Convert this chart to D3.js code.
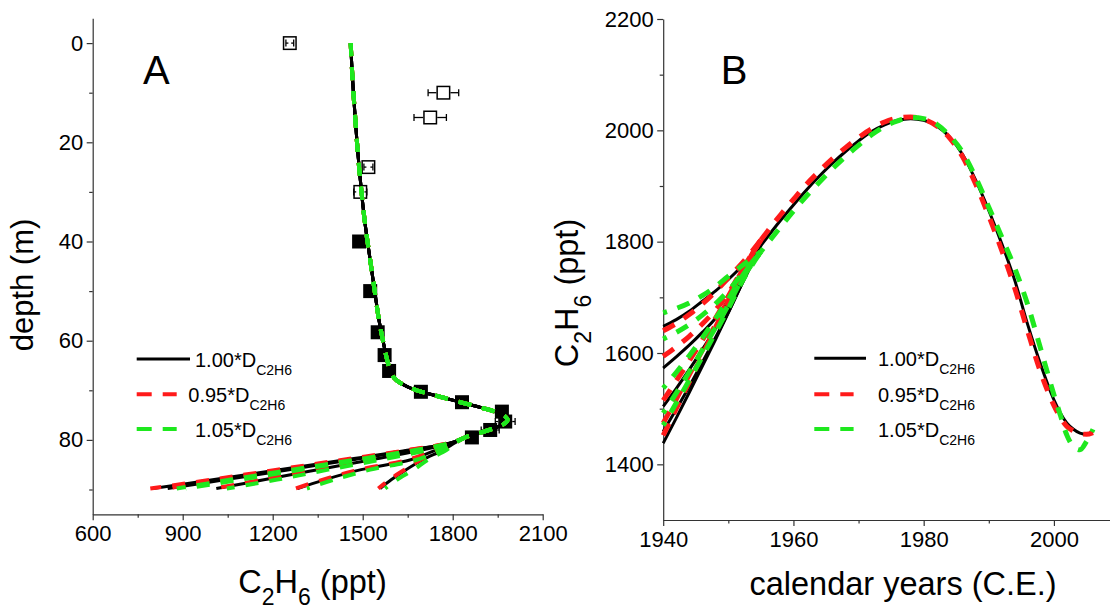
<!DOCTYPE html>
<html>
<head>
<meta charset="utf-8">
<script src="https://cdn.jsdelivr.net/npm/d3@7"></script>
<style>
  body { margin: 0; background: #fff; }
  svg text { font-family: "Liberation Sans", Arial, Helvetica, sans-serif; fill: #000; }
</style>
</head>
<body>
<svg id="chart" width="1110" height="610"></svg>
<script>
// ---------------- Panel A: firn depth profile ----------------
// shared model profile down to the firn/ice transition (depth m, C2H6 ppt)
const depthTop = [0, 5, 10, 15, 20, 25, 30, 35, 40, 45, 50, 55, 58, 61, 64, 66, 67.5, 68.5, 69.3, 70, 70.7, 71.5, 72.5, 73.5, 74.5, 75.3, 76, 76.8, 77.6, 78.5, 79.3];
const ppbTop   = [1460, 1464, 1469, 1475, 1481, 1488, 1496, 1505, 1516, 1528, 1540, 1552, 1561, 1571, 1582, 1592, 1605, 1625, 1650, 1680, 1720, 1770, 1832, 1895, 1950, 1975, 1983, 1970, 1940, 1895, 1850];

// deep tails, one row per pre-1950 history scenario
const tailDepth = [80.5, 82, 84, 86, 88, 89.8];
const tailBlack = [
  [1798, 1660, 1442, 1222, 1005, 800],
  [1798, 1668, 1465, 1255, 1045, 850],
  [1800, 1700, 1530, 1350, 1175, 1012],
  [1805, 1745, 1660, 1495, 1375, 1283],
  [1810, 1770, 1700, 1645, 1596, 1558]
];
const tailRed = [
  [1798, 1655, 1435, 1215, 998, 792],
  [1798, 1662, 1458, 1248, 1038, 842],
  [1800, 1695, 1524, 1343, 1168, 1005],
  [1805, 1740, 1652, 1488, 1368, 1276],
  [1810, 1765, 1694, 1640, 1590, 1552]
];
const tailGreen = [
  [1800, 1680, 1475, 1265, 1060, 880],
  [1800, 1690, 1495, 1295, 1095, 910],
  [1803, 1720, 1560, 1385, 1215, 1047],
  [1808, 1760, 1680, 1525, 1405, 1314],
  [1812, 1780, 1718, 1670, 1615, 1575]
];

// firn air measurements
const firnObsDepth = [0, 10, 15, 25, 30];
const firnObsValue = [1257, 1769, 1725, 1519, 1492];
const firnObsErr   = [13, 51, 54, 15, 22];
const iceObsDepth  = [40, 50, 58.3, 62.9, 66.1, 70.3, 72.4, 74.3, 76.3, 78, 79.5];
const iceObsValue  = [1488, 1525, 1550, 1573, 1588, 1694, 1831, 1964, 1975, 1925, 1864];
const iceObsErr    = [5, 5, 5, 5, 5, 5, 5, 5, 33, 30, 12];

// ---------------- Panel B: reconstructed atmospheric history ----------------
const earlyYears = [1940, 1942, 1944, 1946, 1948, 1950, 1952, 1955];
const earlyBlack = [
  [1438, 1483, 1529, 1576, 1623, 1672, 1722, 1793],
  [1459, 1499, 1540, 1583, 1627, 1673, 1722, 1793],
  [1504, 1536, 1570, 1606, 1644, 1685, 1730, 1793],
  [1573, 1593, 1614, 1637, 1662, 1695, 1735, 1793],
  [1648, 1660, 1675, 1693, 1711, 1732, 1755, 1793]
];
const earlyRed = [
  [1452, 1500, 1548, 1596, 1645, 1694, 1742, 1803],
  [1474, 1517, 1561, 1605, 1650, 1696, 1744, 1803],
  [1515, 1550, 1586, 1623, 1662, 1702, 1745, 1803],
  [1594, 1611, 1630, 1652, 1677, 1707, 1747, 1803],
  [1640, 1653, 1669, 1688, 1710, 1735, 1760, 1803]
];
const earlyGreen = [
  [1470, 1510, 1551, 1593, 1636, 1680, 1726, 1782],
  [1492, 1528, 1566, 1605, 1645, 1686, 1730, 1782],
  [1537, 1565, 1595, 1627, 1661, 1697, 1736, 1782],
  [1625, 1637, 1651, 1668, 1688, 1712, 1740, 1782],
  [1672, 1680, 1690, 1703, 1719, 1738, 1756, 1782]
];
// common path after the scenarios converge
const mainYears = [1955, 1958, 1960, 1962, 1964, 1966, 1968, 1970, 1972, 1974, 1976, 1978, 1980, 1982, 1984, 1986, 1988, 1990, 1992, 1994, 1996, 1998, 2000, 2001, 2002, 2003, 2004, 2005, 2006];
const mainBlack = [1793, 1838, 1866, 1893, 1918, 1941, 1962, 1981, 1998, 2010, 2018, 2021, 2018, 2008, 1988, 1956, 1910, 1856, 1796, 1730, 1650, 1578, 1516, 1492, 1474, 1463, 1456, 1454, 1460];
const mainRed   = [1803, 1848, 1876, 1903, 1927, 1949, 1969, 1987, 2003, 2015, 2022, 2024, 2020, 2008, 1986, 1952, 1903, 1846, 1784, 1716, 1638, 1564, 1506, 1484, 1468, 1460, 1455, 1454, 1457];
const mainGreen = [1782, 1826, 1855, 1882, 1907, 1931, 1953, 1973, 1992, 2007, 2017, 2023, 2021, 2011, 1990, 1960, 1915, 1862, 1808, 1752, 1686, 1606, 1525, 1488, 1452, 1432, 1426, 1441, 1463];

// axis ticks and legend labels
const depthTicks = [0, 20, 40, 60, 80];
const depthMinor = [10, 30, 50, 70, 90];
const ppbTicksA  = [600, 900, 1200, 1500, 1800, 2100];
const ppbMinorA  = [750, 1050, 1350, 1650, 1950];
const yearTicks  = [1940, 1960, 1980, 2000];
const yearMinor  = [1950, 1970, 1990];
const ppbTicksB  = [1400, 1600, 1800, 2000, 2200];
const ppbMinorB  = [1500, 1700, 1900, 2100];
const legendFactors = ["1.00", "0.95", "1.05"];

// ---------------- drawing ----------------
const svg = d3.select("#chart");
svg.append("rect").attr("width", 1110).attr("height", 610).attr("fill", "#fff");

const styles = [
  { color: "#000000", width: 3, dash: null, offset: 0 },
  { color: "#ff1a1a", width: 4, dash: "13,11", offset: 0 },
  { color: "#1ee81e", width: 4, dash: "13,11", offset: 0 }
];

const xA = d3.scaleLinear([600, 2100], [92.7, 542.7]);
const yA = d3.scaleLinear([-5, 95], [18.3, 514.3]);
const xB = d3.scaleLinear([1940, 2010], [663.2, 663.2 + 70 * 6.512]);
const yB = d3.scaleLinear([1300, 2200], [520, 19]);

const TICK_FONT = 22;

function styleAxis(g) {
  g.selectAll(".domain").attr("stroke", "#333").attr("stroke-width", 1.2);
  g.selectAll(".tick line").attr("stroke", "#333").attr("stroke-width", 1.2);
  g.selectAll(".tick text").attr("font-size", TICK_FONT)
    .attr("font-family", "Liberation Sans, Arial, sans-serif").attr("fill", "#000");
}

function drawAxes(x, y, xMajor, xMinor, yMajor, yMinor, xAxisY, yAxisX) {
  const gx = svg.append("g").attr("transform", `translate(0,${xAxisY})`)
    .call(d3.axisBottom(x).tickValues(xMajor).tickSize(6).tickSizeOuter(0).tickPadding(5.5).tickFormat(d3.format("d")));
  styleAxis(gx);
  const gxm = svg.append("g").attr("transform", `translate(0,${xAxisY})`)
    .call(d3.axisBottom(x).tickValues(xMinor).tickSize(3.5).tickFormat(""));
  gxm.select(".domain").remove();
  styleAxis(gxm);
  const gy = svg.append("g").attr("transform", `translate(${yAxisX},0)`)
    .call(d3.axisLeft(y).tickValues(yMajor).tickSize(6).tickSizeOuter(0).tickPadding(3.5).tickFormat(d3.format("d")));
  styleAxis(gy);
  const gym = svg.append("g").attr("transform", `translate(${yAxisX},0)`)
    .call(d3.axisLeft(y).tickValues(yMinor).tickSize(3.5).tickFormat(""));
  gym.select(".domain").remove();
  styleAxis(gym);
}

// text with subscripted pieces: parts = [[text, isSub], ...]
function richText(g, parts, size, subSize, subShift) {
  let shifted = false;
  parts.forEach(([t, sub]) => {
    const ts = g.append("tspan").text(t).attr("font-size", sub ? subSize : size);
    if (sub && !shifted) { ts.attr("dy", subShift); shifted = true; }
    else if (!sub && shifted) { ts.attr("dy", -subShift); shifted = false; }
  });
  return g;
}

function strokePath(g, line, pts, st) {
  const p = g.append("path").attr("d", line(pts)).attr("fill", "none")
    .attr("stroke", st.color).attr("stroke-width", st.width)
    .attr("stroke-linejoin", "round");
  if (st.dash) p.attr("stroke-dasharray", st.dash).attr("stroke-dashoffset", st.offset || 0);
  return p;
}

function legend(x0, lineEnds, textXs, rowY) {
  legendFactors.forEach((f, i) => {
    const st = styles[i];
    const l = svg.append("line").attr("x1", x0).attr("x2", lineEnds[i])
      .attr("y1", rowY[i]).attr("y2", rowY[i])
      .attr("stroke", st.color).attr("stroke-width", i === 0 ? 3 : 4);
    if (st.dash) l.attr("stroke-dasharray", "15,11");
    const t = svg.append("text").attr("x", textXs[i]).attr("y", rowY[i] + 8);
    richText(t, [[f + "*D", false], ["C2H6", true]], 20, 14, 8);
  });
}

const subTitle = [["C", false], ["2", true], ["H", false], ["6", true], [" (ppt)", false]];

// ----- Panel A -----
drawAxes(xA, yA, ppbTicksA, ppbMinorA, depthTicks, depthMinor, 514.3, 92.7);

const gA = svg.append("g");
const half = 7;

// filled squares (ice) and open squares (firn air)
iceObsDepth.forEach((d, i) => {
  gA.append("rect").attr("x", xA(iceObsValue[i]) - half).attr("y", yA(d) - half)
    .attr("width", 2 * half).attr("height", 2 * half).attr("fill", "#000");
});
firnObsDepth.forEach((d, i) => {
  gA.append("rect").attr("x", xA(firnObsValue[i]) - half + 0.75).attr("y", yA(d) - half + 0.75)
    .attr("width", 2 * half - 1.5).attr("height", 2 * half - 1.5)
    .attr("fill", "#fff").attr("stroke", "#000").attr("stroke-width", 1.5);
});

// horizontal error bars drawn outside the symbol
function errBars(depths, values, errs) {
  depths.forEach((d, i) => {
    const cx = xA(values[i]), cy = yA(d);
    const lo = xA(values[i] - errs[i]), hi = xA(values[i] + errs[i]);
    const seg = (a, b) => gA.append("line").attr("x1", a).attr("x2", b).attr("y1", cy).attr("y2", cy)
      .attr("stroke", "#000").attr("stroke-width", 1.3);
    if (hi - cx > half) { seg(lo, cx - half); seg(cx + half, hi); }
    else { seg(lo, lo + 2.5); seg(hi - 2.5, hi); }
    [lo, hi].forEach(xx => gA.append("line").attr("x1", xx).attr("x2", xx)
      .attr("y1", cy - 3.5).attr("y2", cy + 3.5).attr("stroke", "#000").attr("stroke-width", 1.3));
  });
}
errBars(firnObsDepth, firnObsValue, firnObsErr);
errBars(iceObsDepth, iceObsValue, iceObsErr);

const lineA = d3.line().x(p => xA(p[1])).y(p => yA(p[0])).curve(d3.curveCatmullRom.alpha(0.5));
const topPts = depthTop.map((d, i) => [d, ppbTop[i]]);
[tailBlack, tailRed, tailGreen].forEach((tails, k) => {
  tails.forEach(row => {
    const pts = topPts.concat(tailDepth.map((d, j) => [d, row[j]]));
    strokePath(gA, lineA, pts, styles[k]);
  });
});

svg.append("text").attr("x", 143).attr("y", 83.5).attr("font-size", 40).text("A");
legend(136.7, [190, 176.7, 176.7], [195, 188.3, 195], [359, 394.3, 429]);

svg.append("text").attr("x", 312.5).attr("y", 593).attr("text-anchor", "middle")
  .call(t => richText(t, subTitle, 32.5, 23, 12));
svg.append("text").attr("transform", "translate(33,285) rotate(-90)").attr("text-anchor", "middle")
  .attr("font-size", 31).text("depth (m)");

// ----- Panel B -----
drawAxes(xB, yB, yearTicks, yearMinor, ppbTicksB, ppbMinorB, 520, 663.2);

const gB = svg.append("g");
const lineB = d3.line().x(p => xB(p[0])).y(p => yB(p[1])).curve(d3.curveMonotoneX);
const mains = [mainBlack, mainRed, mainGreen];
const offsetsB = [0, 0, 9];
[earlyBlack, earlyRed, earlyGreen].forEach((early, k) => {
  const st = Object.assign({}, styles[k], { width: k === 0 ? 3 : 5, offset: offsetsB[k] });
  // scenario-specific early histories
  early.forEach(row => {
    strokePath(gB, lineB, earlyYears.map((yr, j) => [yr, row[j]]), st);
  });
  // converged history
  strokePath(gB, lineB, mainYears.map((yr, j) => [yr, mains[k][j]]), st);
});

svg.append("text").attr("x", 720.7).attr("y", 83.5).attr("font-size", 40).text("B");
legend(814.3, [866, 853.6, 853.6], [878, 878, 878], [358.3, 394.3, 429]);

svg.append("text").attr("x", 903).attr("y", 595).attr("text-anchor", "middle")
  .attr("font-size", 32.5).text("calendar years (C.E.)");
svg.append("text").attr("transform", "translate(578,293) rotate(-90)").attr("text-anchor", "middle")
  .call(t => richText(t, subTitle, 32.5, 23, 13));
</script>
</body>
</html>
